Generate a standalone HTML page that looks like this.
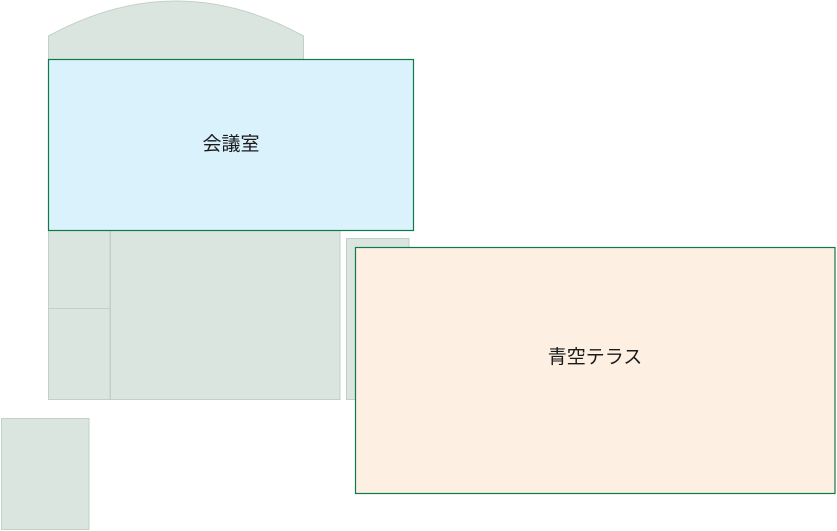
<!DOCTYPE html>
<html><head><meta charset="utf-8"><style>
html,body{margin:0;padding:0;background:#fff;}
svg{display:block}
text{font-family:"Liberation Sans","Noto Sans CJK JP",sans-serif;font-size:19px;fill:#1a1a1a}
</style></head><body>
<svg width="837" height="531" viewBox="0 0 837 531">
<g fill="#dbe5e0" stroke="#c2d0ca" stroke-width="1">
<path d="M48.5,36 Q176,-34 303.5,36 L303.5,60 L48.5,60 Z"/>
<rect x="48.5" y="230.5" width="61.5" height="78"/>
<rect x="48.5" y="308.5" width="61.5" height="91"/>
<rect x="110.5" y="230.5" width="229.5" height="169"/>
<rect x="346.5" y="238.5" width="62.5" height="161"/>
<rect x="1.5" y="418.5" width="87.5" height="111"/>
</g>
<rect x="48.5" y="59.5" width="365" height="171" fill="#daf2fc" stroke="#0e7a4a" stroke-width="1.2"/>
<rect x="355.5" y="247.5" width="479.5" height="246" fill="#fdefe1" stroke="#0e7a4a" stroke-width="1.2"/>
<text x="231" y="150" text-anchor="middle">会議室</text>
<text x="595" y="363" text-anchor="middle">青空テラス</text>
</svg>
</body></html>
